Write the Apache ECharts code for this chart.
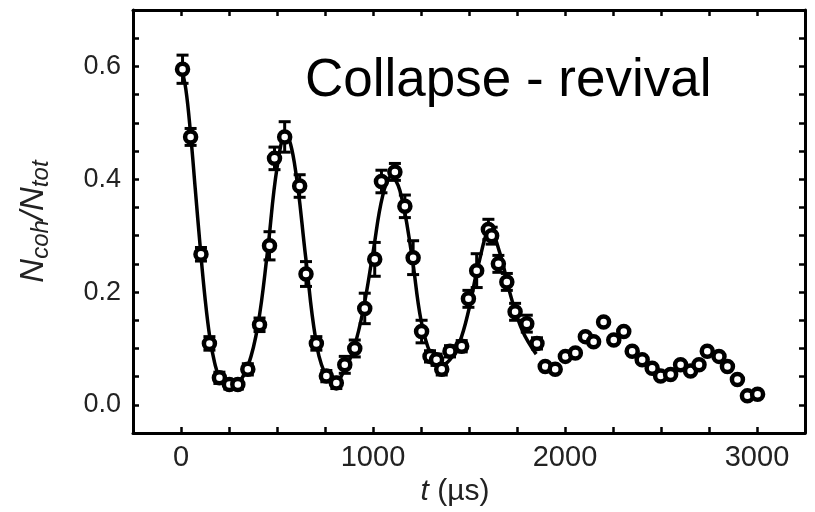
<!DOCTYPE html>
<html>
  <head>
    <meta charset="UTF-8" />
    <title>Collapse - revival</title>
    <style>
      html, body { margin: 0; padding: 0; background: #fff; }
      #chart { width: 815px; height: 512px; }
    </style>
    <script type="text/javascript" src="https://cdn.jsdelivr.net/npm/echarts@6/dist/echarts.min.js"></script>
  </head>
  <body>
    <div id="chart"></div>
    <script>
      // measured points: time (us), fraction, error half-height (0 = no bar)
      var tVals = [8, 50, 104, 148, 200, 252, 296, 348, 409, 461, 487, 540, 618, 651, 705, 757, 809, 853, 905, 957,
        1009, 1044, 1114, 1166, 1209, 1253, 1297, 1331, 1358, 1401, 1462, 1497, 1540, 1601, 1618, 1653, 1697, 1740, 1801, 1854,
        1897, 1949, 2002, 2054, 2106, 2149, 2201, 2254, 2306, 2350, 2402, 2454, 2498, 2550, 2602, 2654, 2698, 2741, 2802, 2846,
        2898, 2950, 3003];
      var yVals = [0.595, 0.475, 0.267, 0.109, 0.048, 0.036, 0.036, 0.063, 0.142, 0.282, 0.437, 0.475, 0.388, 0.232, 0.109, 0.051, 0.039, 0.071, 0.10, 0.171,
        0.258, 0.396, 0.413, 0.352, 0.261, 0.13, 0.086, 0.08, 0.063, 0.095, 0.104, 0.188, 0.238, 0.311, 0.30, 0.25, 0.218, 0.165, 0.144, 0.109,
        0.068, 0.063, 0.086, 0.092, 0.121, 0.112, 0.147, 0.115, 0.13, 0.095, 0.08, 0.065, 0.051, 0.054, 0.071, 0.06, 0.071, 0.095, 0.086, 0.068,
        0.045, 0.016, 0.019];
      var errVals = [0.025, 0.015, 0.012, 0.012, 0.01, 0.008, 0.008, 0.01, 0.012, 0.025, 0.02, 0.027, 0.02, 0.022, 0.012, 0.01, 0.01, 0.015, 0.015, 0.027,
        0.03, 0.02, 0.015, 0.02, 0.03, 0.02, 0.01, 0.01, 0.01, 0.01, 0.01, 0.015, 0.03, 0.018, 0.015, 0.015, 0.015, 0.015, 0.015, 0.01,
        0, 0, 0, 0, 0, 0, 0, 0, 0, 0, 0, 0, 0, 0, 0, 0, 0, 0, 0, 0,
        0, 0, 0];

      // fit curve
      var fitT = [0, 25, 50, 75, 100, 125, 150, 175, 200, 250, 300, 350, 400, 450, 500, 545, 590, 650, 700, 750, 800, 850, 900, 950,
        1000, 1050, 1095, 1140, 1200, 1250, 1300, 1350, 1400, 1450, 1500, 1550, 1610, 1660, 1720, 1780, 1850];
      var fitY = [0.60, 0.56, 0.48, 0.38, 0.28, 0.19, 0.12, 0.075, 0.05, 0.035, 0.04, 0.07, 0.14, 0.27, 0.42, 0.48, 0.43, 0.26, 0.12, 0.055, 0.04, 0.06, 0.10, 0.17,
        0.27, 0.37, 0.405, 0.38, 0.27, 0.15, 0.09, 0.07, 0.08, 0.11, 0.17, 0.25, 0.31, 0.27, 0.19, 0.13, 0.09];

      var chart = echarts.init(document.getElementById("chart"));

      var points = tVals.map(function (t, i) { return [t, yVals[i]]; });
      var bars = tVals.map(function (t, i) { return [t, yVals[i] - errVals[i], yVals[i] + errVals[i]]; })
        .filter(function (d, i) { return errVals[i] > 0; });
      var fit = fitT.map(function (t, i) { return [t, fitY[i]]; });

      var font = "Liberation Sans, Arial, sans-serif";

      function xLabel(v) {
        return (v >= 0 && Math.abs(v % 1000) < 1e-6) ? String(v) : "";
      }
      function yLabel(v) {
        var k = v / 0.2;
        return (v > -1e-6 && Math.abs(k - Math.round(k)) < 1e-6) ? v.toFixed(1) : "";
      }

      var axisLine = { show: true, onZero: false, lineStyle: { color: "#000", width: 3 } };
      var tick = { show: true, inside: true, length: 6, lineStyle: { color: "#000", width: 2.5 } };

      var option = {
        animation: false,
        title: {
          text: "Collapse - revival",
          left: 300,
          top: 50,
          textStyle: { fontFamily: font, fontSize: 53, fontWeight: "normal", color: "#000" }
        },
        grid: { left: 133, right: 10, top: 10, bottom: 76 },
        xAxis: [
          {
            type: "value", position: "bottom", min: -250, max: 3250, interval: 250,
            axisLine: axisLine, axisTick: tick, splitLine: { show: false },
            axisLabel: { formatter: xLabel, fontFamily: font, fontSize: 29, color: "#222", margin: 10, showMinLabel: true, showMaxLabel: true },
            name: "{i|t} (\u00b5s)",
            nameLocation: "middle",
            nameGap: 36,
            nameTextStyle: {
              fontFamily: font, fontSize: 30, color: "#222", padding: [0, 28, 0, 0],
              rich: { i: { fontFamily: font, fontSize: 30, fontStyle: "italic", color: "#222" } }
            }
          },
          {
            type: "value", position: "top", min: -250, max: 3250, interval: 250,
            axisLine: axisLine, axisTick: tick, splitLine: { show: false },
            axisLabel: { show: false }
          }
        ],
        yAxis: [
          {
            type: "value", position: "left", min: -0.05, max: 0.7, interval: 0.05,
            axisLine: axisLine, axisTick: tick, splitLine: { show: false },
            axisLabel: { formatter: yLabel, fontFamily: font, fontSize: 27, color: "#222", margin: 12 },
            name: "{n|N}{s|coh}{n|/N}{s|tot}",
            nameLocation: "middle",
            nameRotate: 90,
            nameGap: 80,
            nameTextStyle: {
              color: "#222",
              rich: {
                n: { fontFamily: font, fontSize: 33, fontStyle: "italic", color: "#222", lineHeight: 38 },
                s: { fontFamily: font, fontSize: 24, fontStyle: "italic", color: "#222", verticalAlign: "bottom" }
              }
            }
          },
          {
            type: "value", position: "right", min: -0.05, max: 0.7, interval: 0.05,
            axisLine: axisLine, axisTick: tick, splitLine: { show: false },
            axisLabel: { show: false }
          }
        ],
        series: [
          {
            name: "fit",
            type: "line",
            data: fit,
            smooth: 0.4,
            showSymbol: false,
            lineStyle: { color: "#000", width: 3.5 },
            z: 2
          },
          {
            name: "error",
            type: "custom",
            data: bars,
            z: 3,
            renderItem: function (params, api) {
              var lo = api.coord([api.value(0), api.value(1)]);
              var hi = api.coord([api.value(0), api.value(2)]);
              var w = 6;
              var st = { stroke: "#000", lineWidth: 3 };
              return {
                type: "group",
                children: [
                  { type: "line", shape: { x1: lo[0], y1: lo[1], x2: hi[0], y2: hi[1] }, style: st },
                  { type: "line", shape: { x1: lo[0] - w, y1: lo[1], x2: lo[0] + w, y2: lo[1] }, style: st },
                  { type: "line", shape: { x1: hi[0] - w, y1: hi[1], x2: hi[0] + w, y2: hi[1] }, style: st }
                ]
              };
            }
          },
          {
            name: "data",
            type: "scatter",
            data: points,
            symbol: "circle",
            symbolSize: 11,
            itemStyle: { color: "#fff", borderColor: "#000", borderWidth: 4.5, opacity: 1 },
            z: 4
          }
        ]
      };

      chart.setOption(option);
    </script>
  </body>
</html>
